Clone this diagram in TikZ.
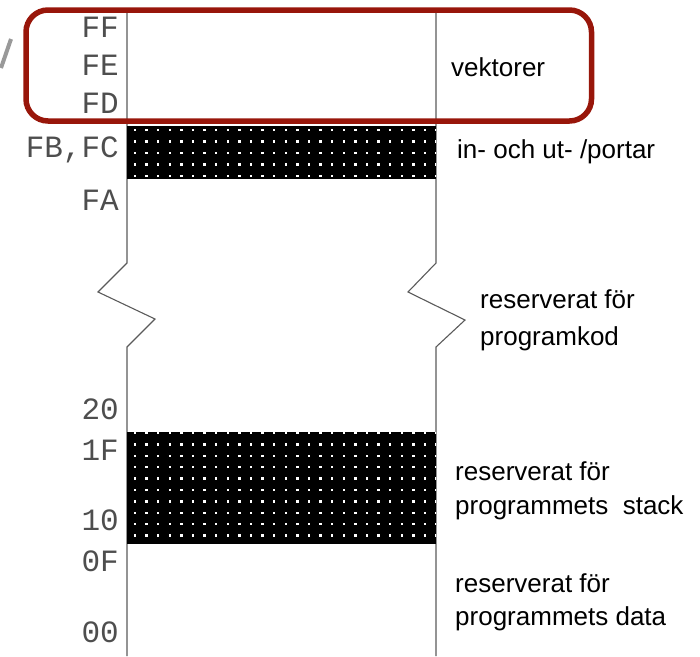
\documentclass[tikz,border=0pt]{standalone}
\usepackage{fontspec}
\setmainfont{Liberation Sans}
\newfontfamily\hexfont{Liberation Mono}
\definecolor{boxred}{RGB}{152,22,10}
\definecolor{hexgray}{RGB}{78,78,78}
\definecolor{wallgray}{RGB}{90,90,90}

\tikzset{
  hexlbl/.style={anchor=base east,inner sep=0pt,text=hexgray,font=\hexfont\fontsize{31}{34}\selectfont},
  desc/.style={anchor=base west,inner sep=0pt,font=\fontsize{26}{30}\selectfont},
  wall/.style={draw=wallgray,line width=1.1pt},
}

\begin{document}
\begin{tikzpicture}[x=1pt,y=-1pt]
    \useasboundingbox (0,0) rectangle (700,656);

    % cut-off stroke at the left edge
    \draw[gray!80,line width=4pt] (11,39) -- (1,68);

    % memory column, broken between FA and 20
    \draw[wall] (127,10) -- (127,263) -- (98,292) -- (155,319) -- (127,347) -- (127,656);
    \draw[wall] (436,10) -- (436,263) -- (408,292) -- (465,320) -- (436,347) -- (436,656);

    % dotted bands
    \fill (127,126) rectangle (436,179);
    \fill (127,432) rectangle (436,544);
    \begin{scope}
      \clip (127,126) rectangle (436,179);
      \foreach \r in {0,...,4}
        \foreach \c in {0,...,26}
          \fill[white] (133.8+\c*11.6,128.8+\r*11.5) rectangle +(2.4,2.4);
    \end{scope}
    \begin{scope}
      \clip (127,432) rectangle (436,544);
      \foreach \r in {0,...,9}
        \foreach \c in {0,...,26}
          \fill[white] (133.8+\c*11.6,431.8+\r*11.4) rectangle +(2.4,2.4);
    \end{scope}

    % addresses
    \node[hexlbl] (ff) at (119,37.5) {FF};
    \node[hexlbl] (fe) at (119,75.5) {FE};
    \node[hexlbl] (fd) at (119,113.5) {FD};
    \node[hexlbl] (fbfc) at (119,157.5) {FB,FC};
    \node[hexlbl] (fa) at (119,210) {FA};
    \node[hexlbl] (a20) at (119,419.5) {20};
    \node[hexlbl] (a1f) at (119,460.5) {1F};
    \node[hexlbl] (a10) at (119,530.5) {10};
    \node[hexlbl] (a0f) at (119,571.5) {0F};
    \node[hexlbl] (a00) at (119,642.5) {00};

    % descriptions
    \node[desc] (vek) at (451,76) {vektorer};
    \node[desc] (port) at (457,158) {in- och ut- /portar};
    \node[desc] (kod1) at (480,308) {reserverat för};
    \node[desc] (kod2) at (480,345) {programkod};
    \node[desc] (stk1) at (455,480) {reserverat för};
    \node[desc] (stk2) at (455,514) {programmets\ \ stack};
    \node[desc] (dat1) at (455,592) {reserverat för};
    \node[desc] (dat2) at (455,625) {programmets data};

    % highlight round the vector area
    \draw[boxred,line width=5.5pt,rounded corners=22pt] (26,10) rectangle (591.5,121);
\end{tikzpicture}
\end{document}
